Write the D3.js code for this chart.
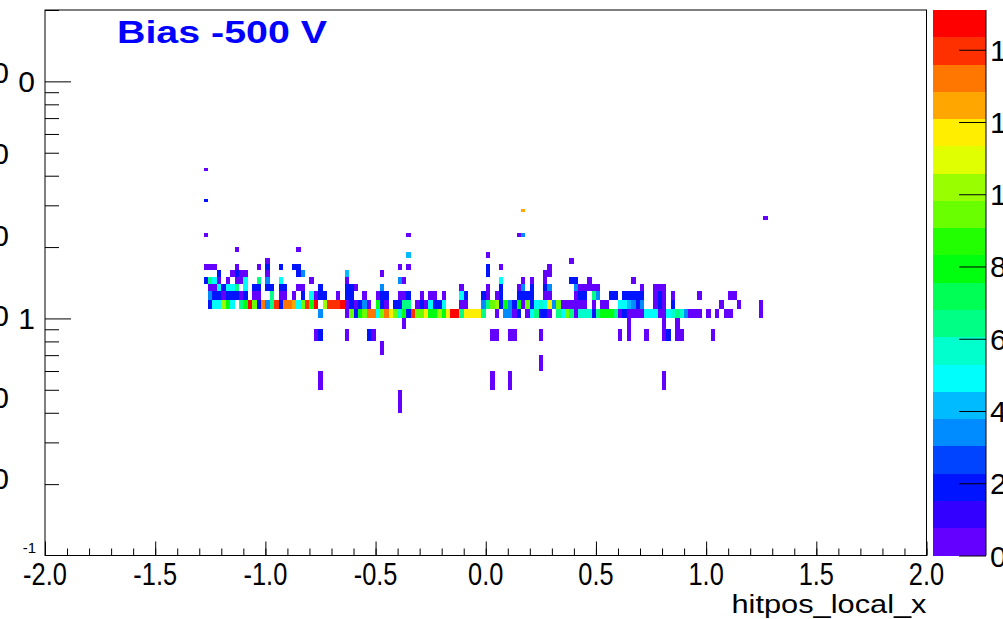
<!DOCTYPE html>
<html><head><meta charset="utf-8">
<script src="https://cdnjs.cloudflare.com/ajax/libs/d3/7.8.5/d3.min.js"></script>
<style>
html,body{margin:0;padding:0;background:#fff;overflow:hidden}
svg{display:block}
text{font-family:"Liberation Sans",Arial,sans-serif}
</style></head><body>
<script>
// ---------- data ----------
// axis ranges / ticks
const xDomain = [-2, 2];
const yDomain = [0.1, 20];
const zMax = 15.1;
const xTickLabels = [-2, -1.5, -1, -0.5, 0, 0.5, 1, 1.5, 2];
const zTickLabels = [0, 2, 4, 6, 8, 10, 12, 14];
const xBinWidth = 0.02;
const yBinWidth = 0.1;
const nContours = 20;
const title = "Bias -500 V";
const xTitle = "hitpos_local_x";

// bin contents: [x low edge, z]  per y-bin (y low edge)
const row4_2 = [[-1.28,0.4]];
const row3_1 = [[-1.28,1.9]];
const row2_8 = [[0.16,12.5]];
const row2_6 = [[1.26,0.4]];
const row2_2 = [[-1.28,0.4],[-0.36,0.4],[0.14,0.4],[0.16,3.4]];
const row1_9 = [[-1.14,0.4],[-0.86,0.4]];
const row1_8 = [[-0.36,4.2],[0.00,0.4]];
const row1_7 = [[-1.00,0.4],[0.38,0.4]];
const row1_6 = [[-1.28,0.4],[-1.26,0.4],[-1.24,0.4],[-1.14,0.4],[-1.04,0.4],[-1.00,1.9],[-0.94,1.9],[-0.88,1.9],[-0.86,1.9],[-0.40,0.4],[-0.36,0.4],[0.00,1.9],[0.06,0.4],[0.28,0.4]];
const row1_5 = [[-1.22,1.9],[-1.16,0.4],[-1.14,1.9],[-1.12,0.4],[-1.10,0.4],[-1.00,0.4],[-0.86,1.9],[-0.84,3.4],[-0.64,4.2],[-0.48,0.4],[0.00,1.9],[0.26,0.4],[0.28,0.4]];
const row1_4 = [[-1.28,1.9],[-1.26,6.4],[-1.24,4.9],[-1.22,0.4],[-1.18,0.4],[-1.14,0.4],[-1.12,0.4],[-1.10,4.9],[-1.04,6.4],[-1.00,3.4],[-0.94,4.9],[-0.80,0.4],[-0.64,0.4],[-0.40,3.4],[-0.38,0.4],[0.06,4.9],[0.16,0.4],[0.20,0.4],[0.26,0.4],[0.38,1.9],[0.40,1.9],[0.46,0.4],[0.66,0.4]];
const row1_3 = [[-1.26,0.4],[-1.24,0.4],[-1.22,4.9],[-1.20,1.9],[-1.18,4.9],[-1.16,4.9],[-1.14,6.4],[-1.10,4.9],[-1.06,1.9],[-1.04,1.9],[-1.00,1.9],[-0.98,1.9],[-0.94,1.9],[-0.92,1.9],[-0.86,0.4],[-0.84,0.4],[-0.76,1.9],[-0.64,1.9],[-0.62,1.9],[-0.60,0.4],[-0.48,3.4],[-0.12,0.4],[0.00,0.4],[0.06,1.9],[0.14,0.4],[0.16,3.4],[0.20,1.9],[0.26,1.9],[0.28,3.4],[0.40,3.4],[0.42,0.4],[0.44,0.4],[0.46,0.4],[0.48,0.4],[0.50,0.4],[0.70,0.4],[0.76,0.4],[0.78,0.4],[0.80,0.4]];
const row1_2 = [[-1.26,3.4],[-1.24,1.9],[-1.22,1.9],[-1.20,0.4],[-1.18,1.9],[-1.16,1.9],[-1.14,1.9],[-1.12,0.4],[-1.10,1.9],[-1.06,0.4],[-1.04,0.4],[-0.98,6.4],[-0.94,0.4],[-0.92,0.4],[-0.88,0.4],[-0.84,1.9],[-0.80,4.9],[-0.78,0.4],[-0.76,1.9],[-0.74,1.9],[-0.68,0.4],[-0.64,1.9],[-0.62,1.9],[-0.56,0.4],[-0.50,0.4],[-0.48,1.9],[-0.46,1.9],[-0.40,0.4],[-0.38,0.4],[-0.36,1.9],[-0.30,0.4],[-0.26,0.4],[-0.24,0.4],[-0.20,0.4],[-0.12,4.9],[-0.10,1.9],[-0.02,1.9],[0.00,0.4],[0.04,0.4],[0.06,1.9],[0.14,1.9],[0.16,1.9],[0.18,1.9],[0.20,1.9],[0.26,0.4],[0.28,0.4],[0.40,0.4],[0.42,1.9],[0.44,1.9],[0.48,6.4],[0.50,3.4],[0.56,1.9],[0.58,1.9],[0.62,1.9],[0.64,1.9],[0.66,1.9],[0.68,1.9],[0.70,1.9],[0.76,0.4],[0.78,1.9],[0.80,0.4],[0.84,0.4],[0.96,0.4],[1.10,0.4],[1.12,0.4]];
const row1_1 = [[-1.26,1.9],[-1.24,4.9],[-1.22,4.9],[-1.20,10.2],[-1.18,7.9],[-1.16,4.9],[-1.12,6.4],[-1.10,7.9],[-1.08,14.7],[-1.06,9.4],[-1.04,1.9],[-1.02,13.2],[-1.00,3.4],[-0.98,6.4],[-0.96,14.0],[-0.94,1.9],[-0.92,13.2],[-0.90,13.2],[-0.88,12.5],[-0.86,4.9],[-0.84,9.4],[-0.82,14.0],[-0.80,7.9],[-0.78,14.7],[-0.74,10.2],[-0.72,14.0],[-0.70,14.0],[-0.68,14.0],[-0.66,14.7],[-0.64,0.4],[-0.62,1.9],[-0.60,0.4],[-0.58,1.9],[-0.56,3.4],[-0.54,0.4],[-0.50,7.9],[-0.48,1.9],[-0.46,0.4],[-0.42,1.9],[-0.40,1.9],[-0.38,6.4],[-0.36,6.4],[-0.32,0.4],[-0.30,1.9],[-0.28,0.4],[-0.26,4.9],[-0.24,1.9],[-0.22,1.9],[-0.20,4.9],[-0.12,0.4],[-0.10,0.4],[-0.02,3.4],[0.00,6.4],[0.02,9.4],[0.04,10.2],[0.06,1.9],[0.08,7.9],[0.10,3.4],[0.12,1.9],[0.14,7.9],[0.16,0.4],[0.18,9.4],[0.20,1.9],[0.22,4.9],[0.24,5.7],[0.26,4.9],[0.28,11.7],[0.30,3.4],[0.32,9.4],[0.34,0.4],[0.36,0.4],[0.38,0.4],[0.40,0.4],[0.42,0.4],[0.44,0.4],[0.48,0.4],[0.52,0.4],[0.54,0.4],[0.60,4.9],[0.62,4.9],[0.64,4.2],[0.66,3.4],[0.68,1.9],[0.70,3.4],[0.76,0.4],[0.78,1.9],[0.80,0.4],[0.84,1.9],[1.06,0.4],[1.14,0.4],[1.24,0.4]];
const row1_0 = [[-0.76,3.4],[-0.64,0.4],[-0.62,9.4],[-0.60,1.9],[-0.58,7.9],[-0.56,9.4],[-0.54,13.2],[-0.52,13.2],[-0.50,4.9],[-0.48,9.4],[-0.46,13.2],[-0.44,11.7],[-0.42,9.4],[-0.40,5.7],[-0.38,7.9],[-0.36,1.9],[-0.34,14.0],[-0.32,9.4],[-0.30,9.4],[-0.28,11.7],[-0.26,7.9],[-0.24,7.9],[-0.22,10.2],[-0.20,7.9],[-0.18,11.7],[-0.16,14.7],[-0.14,14.7],[-0.12,6.4],[-0.10,11.7],[-0.08,11.7],[-0.06,11.7],[-0.04,11.7],[-0.02,6.4],[0.04,0.4],[0.08,3.4],[0.10,3.4],[0.12,0.4],[0.14,1.9],[0.18,0.4],[0.20,4.9],[0.22,6.4],[0.24,1.9],[0.26,1.9],[0.28,0.4],[0.32,6.4],[0.34,4.9],[0.36,9.4],[0.38,6.4],[0.40,0.4],[0.42,5.7],[0.44,5.7],[0.46,5.7],[0.48,1.9],[0.50,6.4],[0.52,7.9],[0.54,7.9],[0.56,7.9],[0.58,6.4],[0.60,0.4],[0.62,1.9],[0.64,0.4],[0.66,0.4],[0.68,0.4],[0.70,0.4],[0.72,4.9],[0.74,4.9],[0.76,4.9],[0.78,0.4],[0.80,0.4],[0.82,4.9],[0.84,5.7],[0.86,6.4],[0.88,5.7],[0.90,3.4],[0.92,0.4],[0.94,0.4],[0.96,0.4],[1.00,0.4],[1.04,0.4],[1.08,0.4],[1.10,0.4],[1.24,0.4]];
const row0_9 = [[-0.38,0.4],[0.64,0.4],[0.80,0.4],[0.86,0.4]];
const row0_8 = [[-0.78,0.4],[-0.76,1.9],[-0.64,0.4],[-0.54,1.9],[-0.52,0.4],[0.02,0.4],[0.04,0.4],[0.10,0.4],[0.12,0.4],[0.24,0.4],[0.60,0.4],[0.64,0.4],[0.72,0.4],[0.80,0.4],[0.82,1.9],[0.86,0.4],[0.88,0.4],[1.02,0.4]];
const row0_7 = [[-0.48,0.4]];
const row0_6 = [[0.24,0.4]];
const row0_5 = [[-0.76,0.4],[0.02,0.4],[0.10,0.4],[0.80,0.4]];
const row0_4 = [[-0.40,0.4]];

const rowLows = [4.2,3.1,2.8,2.6,2.2,1.9,1.8,1.7,1.6,1.5,1.4,1.3,1.2,1.1,1.0,0.9,0.8,0.7,0.6,0.5,0.4];
const rowCells = [row4_2,row3_1,row2_8,row2_6,row2_2,row1_9,row1_8,row1_7,row1_6,row1_5,row1_4,row1_3,row1_2,row1_1,row1_0,row0_9,row0_8,row0_7,row0_6,row0_5,row0_4];

// ---------- chart ----------
const W = 1003, H = 619;
const frame = {l:45, r:926.5, t:10, b:555.5};
const svg = d3.select("body").append("svg").attr("width",W).attr("height",H);

const x = d3.scaleLinear().domain(xDomain).range([frame.l, frame.r]);
const y = d3.scaleLog().domain(yDomain).range([frame.b, frame.t]);
const z = d3.scaleLinear().domain([0, zMax]).range([frame.b, frame.t]);

// ROOT "pretty" palette (50 colours, hue 280 -> 0) sampled by 20 contours
function paletteColor(level){
  const c = Math.floor((level + 0.99) * 50 / nContours);
  const hue = c >= 49 ? 0 : 280 - (c + 1) * 5.6;
  return d3.hsl(hue, 1, 0.5).formatHex();
}
function zColor(v){
  let lev = Math.floor(v / (zMax / nContours));
  lev = Math.max(0, Math.min(nContours - 1, lev));
  return paletteColor(lev);
}

const cells = [];
rowLows.forEach((yl, i) => rowCells[i].forEach(([xl, v]) => cells.push({xl, yl, v})));

svg.append("clipPath").attr("id","fr").append("rect")
  .attr("x",frame.l).attr("y",frame.t).attr("width",frame.r-frame.l).attr("height",frame.b-frame.t);

svg.append("g").attr("clip-path","url(#fr)").attr("shape-rendering","crispEdges")
  .selectAll("rect").data(cells).join("rect")
  .attr("x", d => x(d.xl))
  .attr("width", d => x(d.xl + xBinWidth) - x(d.xl))
  .attr("y", d => y(d.yl + yBinWidth))
  .attr("height", d => y(d.yl) - y(d.yl + yBinWidth))
  .attr("fill", d => zColor(d.v));

// frame
svg.append("rect").attr("x",frame.l).attr("y",frame.t)
  .attr("width",frame.r-frame.l).attr("height",frame.b-frame.t)
  .attr("fill","none").attr("stroke","#000").attr("stroke-width",1);

// x axis
const xMinor = d3.range(-2, 2.0001, 0.1);
const xAx = svg.append("g").attr("transform",`translate(0,${frame.b})`);
xAx.call(d3.axisTop(x).tickValues(xMinor).tickSize(7).tickFormat(""));
const xMaj = svg.append("g").attr("transform",`translate(0,${frame.b})`);
xMaj.call(d3.axisTop(x).tickValues(xTickLabels).tickSize(14).tickFormat(""));
xAx.select(".domain").remove(); xMaj.select(".domain").remove();

svg.append("g").selectAll("text").data(xTickLabels).join("text")
  .attr("transform", d => `translate(${x(d)},585) scale(0.82,1)`)
  .attr("text-anchor","middle").attr("font-size",31)
  .text(d => d.toFixed(1));

svg.append("text").attr("x",frame.r).attr("y",613).attr("text-anchor","end")
  .attr("font-size",26).attr("textLength",195).attr("lengthAdjust","spacingAndGlyphs")
  .text(xTitle);

// y axis (log)
const yMinor = [];
[0.1, 1, 10].forEach(dec => { for (let m = 2; m <= 9; m++) { const v = dec*m; if (v <= yDomain[1]) yMinor.push(v); } });
const yAx = svg.append("g").attr("transform",`translate(${frame.l},0)`);
yAx.call(d3.axisRight(y).tickValues(yMinor).tickSize(14).tickFormat(""));
const yMaj = svg.append("g").attr("transform",`translate(${frame.l},0)`);
yMaj.call(d3.axisRight(y).tickValues([1, 10]).tickSize(26).tickFormat(""));
yAx.select(".domain").remove(); yMaj.select(".domain").remove();

svg.append("text").attr("x",35).attr("y",y(1)+11).attr("text-anchor","end").attr("font-size",30).text("1");
svg.append("text").attr("x",35).attr("y",y(10)+11).attr("text-anchor","end").attr("font-size",30).text("0");
svg.append("text").attr("x",36).attr("y",frame.b-3).attr("text-anchor","end").attr("font-size",15).text("-1");
// labels clipped at the very left edge (as in the reference)
[72,153,235,315,397,478].forEach(py => svg.append("text").attr("x",9).attr("y",py+11)
  .attr("text-anchor","end").attr("font-size",30).text("0"));

// colour bar
const cb = {l:933, r:986};
const levels = d3.range(nContours);
svg.append("g").attr("shape-rendering","crispEdges").selectAll("rect").data(levels).join("rect")
  .attr("x",cb.l).attr("width",cb.r-cb.l)
  .attr("y", d => z((d+1)*zMax/nContours))
  .attr("height", d => z(d*zMax/nContours) - z((d+1)*zMax/nContours))
  .attr("fill", d => paletteColor(d));
const zAx = svg.append("g").attr("transform",`translate(${cb.r},0)`);
zAx.call(d3.axisLeft(z).tickValues(zTickLabels).tickSize(27).tickFormat(""));
zAx.select(".domain").attr("d",`M0,${frame.t}V${frame.b}`);
svg.append("g").selectAll("text").data(zTickLabels).join("text")
  .attr("x",990).attr("y", d => z(d)+11).attr("font-size",30).text(d => d);

// title
svg.append("text").attr("x",117).attr("y",43).attr("font-size",32).attr("font-weight","bold")
  .attr("fill","#0000ff").attr("textLength",210).attr("lengthAdjust","spacingAndGlyphs").text(title);
</script>
</body></html>
